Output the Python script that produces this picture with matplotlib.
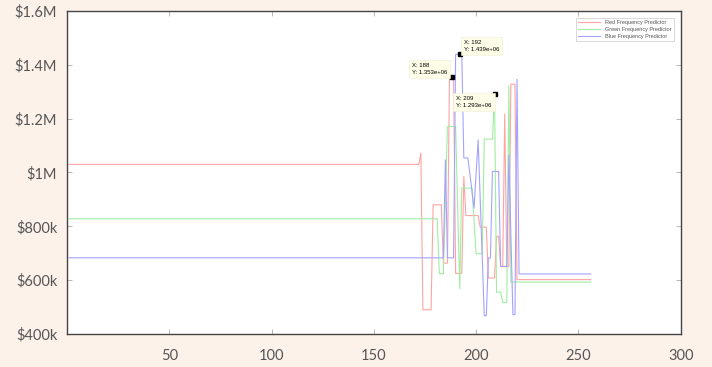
import numpy as np
import matplotlib
matplotlib.use("Agg")
import matplotlib.pyplot as plt

# ===============================
# Data, values in dollars
# ===============================
red_x = [1, 172, 173, 174, 178, 179, 183, 184, 186, 187, 189, 190, 193, 194, 195,
         201, 202, 205, 206, 209, 210, 211, 212, 213, 214, 215, 216, 217, 219, 220, 256]
red_y = [1.030, 1.030, 1.072, 0.490, 0.490, 0.880, 0.880, 0.663, 0.663, 1.353, 1.353,
         0.625, 0.625, 0.985, 0.840, 0.840, 0.797, 0.797, 0.608, 0.608, 0.763, 0.763,
         0.650, 0.650, 1.218, 0.650, 0.650, 1.328, 1.328, 0.602, 0.602]

green_x = [1, 181, 182, 184, 186, 189, 190, 192, 193, 198, 200, 203, 204, 208, 209,
           210, 212, 213, 215, 216, 217, 256]
green_y = [0.828, 0.828, 0.624, 0.624, 1.171, 1.171, 1.171, 0.567, 0.942, 0.942, 0.698,
           0.698, 1.124, 1.124, 1.293, 0.555, 0.555, 0.517, 0.517, 1.322, 0.593, 0.593]

blue_x = [1, 184, 185, 186, 189, 190, 193, 194, 196, 199, 201, 204, 205, 206, 207,
          208, 211, 212, 215, 216, 218, 219, 220, 221, 256]
blue_y = [0.683, 0.683, 1.047, 0.683, 0.683, 1.439, 1.439, 1.054, 1.054, 0.868, 1.121,
          0.468, 0.468, 0.682, 0.682, 1.004, 1.004, 0.651, 0.651, 1.065, 0.472, 0.472,
          1.346, 0.623, 0.623]

red_y = np.array(red_y) * 1e6
green_y = np.array(green_y) * 1e6
blue_y = np.array(blue_y) * 1e6

# data tips: (x, y, text offset in points, alignment)
tips = [
    (188, 1.353e6, (-3, 2), "right", "bottom"),
    (192, 1.439e6, (3, 2), "left", "bottom"),
    (209, 1.293e6, (-2, -2), "right", "top"),
]

yticks = [0.4e6, 0.6e6, 0.8e6, 1.0e6, 1.2e6, 1.4e6, 1.6e6]
ytick_labels = ["$400k", "$600k", "$800k", "$1M", "$1.2M", "$1.4M", "$1.6M"]
xticks = [50, 100, 150, 200, 250, 300]

# ===============================
# Plot
# ===============================
bg = "#fdf2e9"
fig = plt.figure(figsize=(7.12, 3.67), dpi=100, facecolor=bg)
ax = fig.add_axes([0.094, 0.09, 0.862, 0.88])
ax.set_facecolor("white")

ax.plot(red_x, red_y, color="#ffa3a3", lw=0.8, label="Red Frequency Predictor")
ax.plot(green_x, green_y, color="#a0eea0", lw=0.8, label="Green Frequency Predictor")
ax.plot(blue_x, blue_y, color="#a3a3ff", lw=0.8, label="Blue Frequency Predictor")

for tx, ty, off, ha, va in tips:
    ax.plot([tx], [ty], marker="s", ms=3.2, color="black", zorder=5)
    ax.annotate(f"X: {tx}\nY: {ty:.3e}", (tx, ty),
                xytext=off, textcoords="offset points", ha=ha, va=va,
                multialignment="left",
                fontsize=4.3, family="Liberation Sans", linespacing=1.5,
                bbox=dict(boxstyle="square,pad=0.5", fc="#fdfde8", ec="#f0f0d8", lw=0.4),
                zorder=6)

ax.set_xlim(0, 300)
ax.set_ylim(0.4e6, 1.6e6)
ax.set_xticks(xticks)
ax.set_xticklabels([str(t) for t in xticks])
ax.set_yticks(yticks)
ax.set_yticklabels(ytick_labels)

ax.tick_params(direction="in", length=3.5, width=0.6, color="#aaaaaa",
               top=True, right=True, labelsize=10.5, labelcolor="#555555")
ax.tick_params(axis="y", pad=7)
ax.tick_params(axis="x", pad=11)
for lab in ax.get_xticklabels() + ax.get_yticklabels():
    lab.set_family("Lato")

for s in ax.spines.values():
    s.set_color("#444444")
    s.set_linewidth(1.0)

leg = ax.legend(loc="upper right", frameon=True, fancybox=False,
                borderpad=0.4, handlelength=4.0, labelspacing=0.35,
                bbox_to_anchor=(0.993, 0.988), prop={"family": "Liberation Sans", "size": 4.0})
leg.get_frame().set_edgecolor("#bbbbbb")
leg.get_frame().set_linewidth(0.5)
for t in leg.get_texts():
    t.set_color("#555555")

plt.savefig("out.png", dpi=100, facecolor=bg)
